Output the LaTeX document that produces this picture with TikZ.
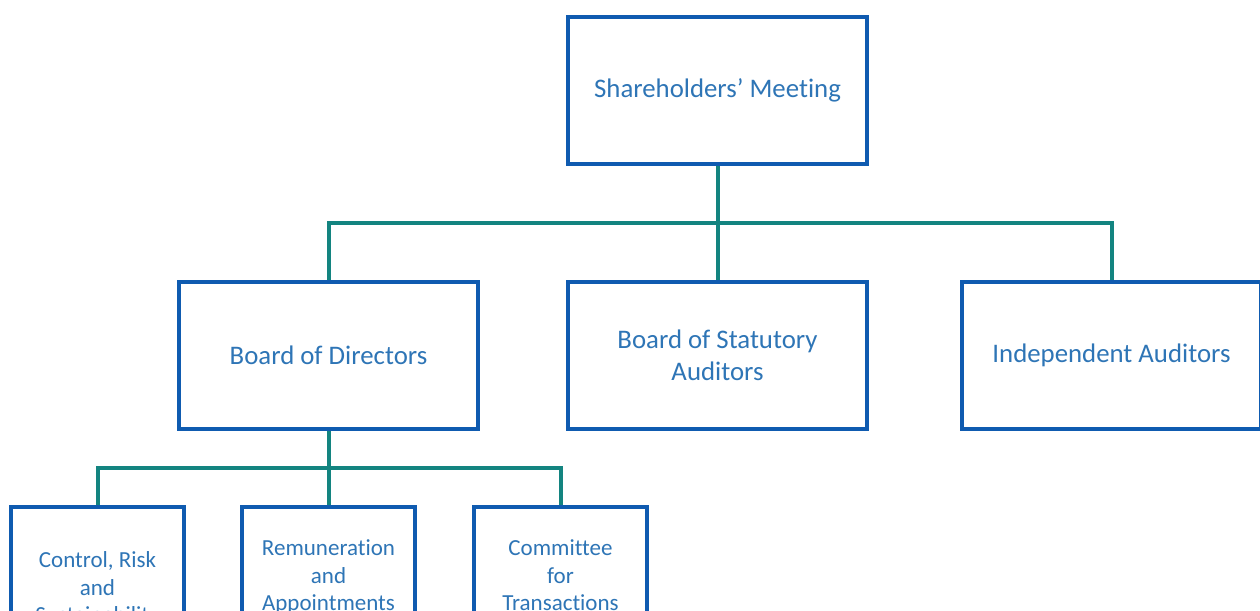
\documentclass[tikz,border=0pt]{standalone}
\usepackage{fontspec}
\setmainfont[Ligatures=NoCommon]{Carlito}
\usetikzlibrary{backgrounds}
\definecolor{boxblue}{HTML}{0F5BB0}
\definecolor{txtblue}{HTML}{2E75B6}
\definecolor{linkteal}{HTML}{138480}
\begin{document}
\begin{tikzpicture}[x=1pt,y=-1pt,
  box/.style={draw=boxblue, line width=4pt, fill=white, minimum width=299pt, minimum height=147pt,
    inner sep=0pt, text=txtblue, font=\fontsize{26.8}{32}\selectfont, align=center},
  sbox/.style={box, minimum width=173pt, minimum height=164pt, font=\fontsize{23}{27.5}\selectfont},
  conn/.style={draw=linkteal, line width=4pt}]
\useasboundingbox (0,0) rectangle (1260,610);
\clip (0,0) rectangle (1260,610);
\node[box] (sh) at (717.5,90.5) {Shareholders’ Meeting};
\node[box] (bd) at (328.5,355.5) {Board of Directors};
\node[box] (bs) at (717.5,355.5) {Board of Statutory\\Auditors};
\node[box] (ia) at (1111.5,355.5) {Independent Auditors};
\node[sbox] (c1) at (97.5,589) {Control, Risk\\and\\Sustainability};
\node[sbox] (c2) at (328.5,589) {Remuneration\\and\\Appointments\\\mbox{}};
\node[sbox] (c3) at (560.5,589) {Committee\\for\\Transactions\\\mbox{}};
\coordinate (j1) at (717.5,223);
\coordinate (j2) at (328.5,468);
\begin{scope}[on background layer]
\draw[conn] (sh.south) -- (j1) -- (bs.north);
\draw[conn] (bd.north) -- (bd.north |- j1) -- (ia.north |- j1) -- (ia.north);
\draw[conn] (bd.south) -- (j2);
\draw[conn] (c1.north) -- (c1.north |- j2) -- (c3.north |- j2) -- (c3.north);
\draw[conn] (j2) -- (c2.north);
\end{scope}
\end{tikzpicture}
\end{document}
